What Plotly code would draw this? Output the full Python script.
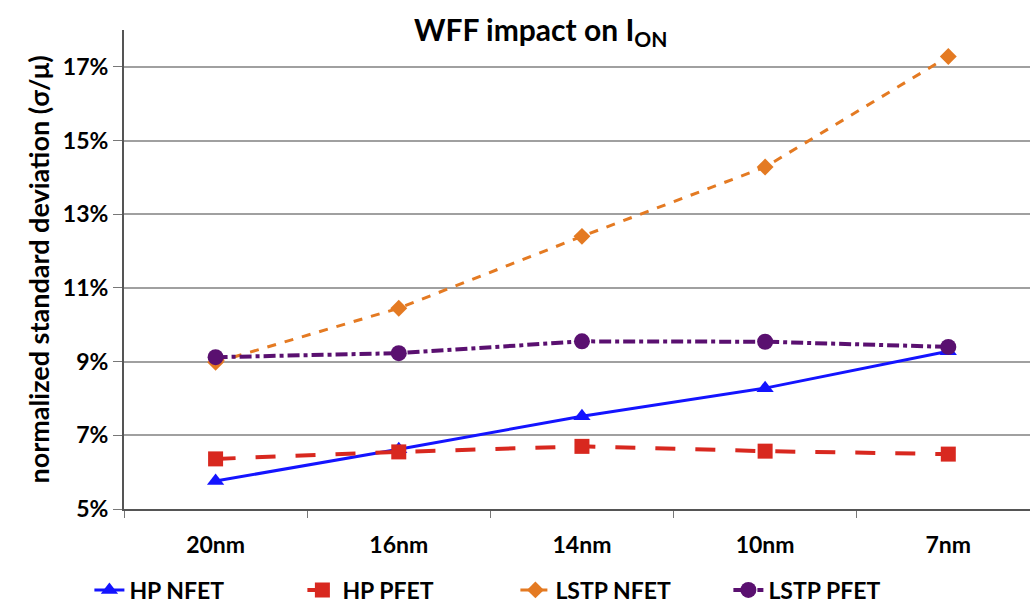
import plotly.graph_objects as go

nodes = ["20nm", "16nm", "14nm", "10nm", "7nm"]
hp_nfet = [5.76, 6.62, 7.52, 8.28, 9.28]
hp_pfet = [6.36, 6.55, 6.70, 6.57, 6.49]
lstp_nfet = [8.98, 10.45, 12.40, 14.28, 17.28]
lstp_pfet = [9.12, 9.23, 9.55, 9.54, 9.40]
y_ticks = [5, 7, 9, 11, 13, 15, 17]
y_tick_labels = ["5%", "7%", "9%", "11%", "13%", "15%", "17%"]

FONT = "Lato"

fig = go.Figure()
series = [
    ("HP NFET", hp_nfet, "#1414ff", "solid", 3, "triangle-up", 15),
    ("HP PFET", hp_pfet, "#d8281f", "longdash", 4, "square", 15),
    ("LSTP NFET", lstp_nfet, "#e47a22", "dash", 3, "diamond", 13),
    ("LSTP PFET", lstp_pfet, "#5a1070", "dashdot", 4, "circle", 16),
]
for name, vals, col, dash, w, sym, ms in series:
    fig.add_trace(go.Scatter(
        x=nodes, y=vals, name="<b>%s</b>" % name, mode="lines+markers",
        line=dict(color=col, dash=dash, width=w),
        marker=dict(symbol=sym, size=ms, color=col),
    ))

fig.update_layout(
    width=1030, height=612,
    margin=dict(l=124, r=0, t=30, b=103, autoexpand=False),
    paper_bgcolor="white", plot_bgcolor="white",
    font=dict(family=FONT, color="black"),
    title=dict(text="<b>WFF impact on I<sub>ON</sub></b>", x=0.525, xanchor="center",
               y=0.95, yanchor="middle", font=dict(size=30, family=FONT)),
    xaxis=dict(
        range=[-0.5, 4.446], showgrid=False, showline=True, linecolor="#555555", linewidth=2,
        ticks="outside", tickson="boundaries", ticklen=7, tickcolor="#777777",
        tickvals=nodes, ticktext=["<b>%s</b>" % n for n in nodes],
        tickfont=dict(size=23, family=FONT), ticklabelstandoff=14,
    ),
    yaxis=dict(
        range=[5, 18], tickvals=y_ticks, ticktext=["<b>%s</b>" % t for t in y_tick_labels],
        showgrid=True, gridcolor="#a0a0a0", gridwidth=2,
        showline=True, linecolor="#555555", linewidth=2, zeroline=False,
        ticks="outside", ticklen=9, tickcolor="#777777",
        tickfont=dict(size=23, family=FONT),
        title=dict(text="<b>normalized standard deviation (σ/μ)</b>", font=dict(size=27, family=FONT), standoff=5),
    ),
    legend=dict(orientation="h", x=0.432, xanchor="center", y=-0.169, yanchor="middle",
                font=dict(size=23, family=FONT), entrywidth=168, entrywidthmode="pixels",
                bgcolor="rgba(0,0,0,0)"),
    showlegend=True,
)

fig.write_html("out.html")
